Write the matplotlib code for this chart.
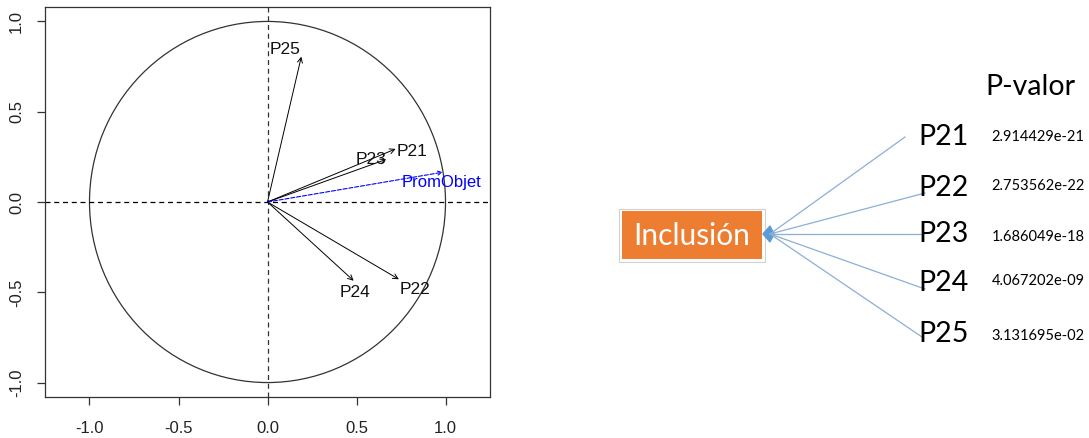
import matplotlib
matplotlib.use("Agg")
import numpy as np
import matplotlib.pyplot as plt
from matplotlib.patches import Circle, Rectangle, Polygon

# correlation circle: loadings of each item on the two dimensions
items = ["P21", "P22", "P23", "P24", "P25"]
dim1 = [0.72, 0.738, 0.667, 0.484, 0.19]
dim2 = [0.294, -0.428, 0.236, -0.436, 0.805]
prom_x, prom_y = 0.985, 0.165  # supplementary variable PromObjet

# p-values shown on the right panel
pvalues = ["2.914429e-21", "2.753562e-22", "1.686049e-18", "4.067202e-09", "3.131695e-02"]

W, H = 1089, 438
fig = plt.figure(figsize=(W / 100, H / 100), dpi=100)

# ---- left: correlation circle (R style) ----
ax = fig.add_axes([45 / W, 1 - 397 / H, 445 / W, 390 / H])
ax.set_xlim(-1.25, 1.25)
ax.set_ylim(-1.08, 1.08)
ax.add_patch(Circle((0, 0), 1.0, fill=False, ec="#333333", lw=0.9))
ax.axhline(0, color="black", ls=(0, (4, 3)), lw=0.9)
ax.axvline(0, color="#333333", ls=(0, (4, 3)), lw=0.9)

for x, y in zip(dim1, dim2):
    ax.annotate("", xy=(x, y), xytext=(0, 0),
                arrowprops=dict(arrowstyle="->", color="black", lw=0.7,
                                mutation_scale=9, shrinkA=0, shrinkB=0))
ax.annotate("", xy=(prom_x, prom_y), xytext=(0, 0),
            arrowprops=dict(arrowstyle="->", color="#0000ff", lw=0.8, ls="--",
                            mutation_scale=7, shrinkA=0, shrinkB=0))

label_off = {"P21": (0.09, -0.015), "P22": (0.088, -0.056), "P23": (-0.084, 0.0),
             "P24": (0.009, -0.064), "P25": (-0.093, 0.04)}
for name, x, y in zip(items, dim1, dim2):
    dx, dy = label_off[name]
    ax.text(x + dx, y + dy, name, ha="center", va="center", fontsize=12.5,
            family="Liberation Sans", color="#111111")
ax.text(prom_x - 0.009, prom_y - 0.058, "PromObjet", ha="center", va="center",
        fontsize=12, family="Liberation Sans", color="#0000ff")

ax.set_xticks([-1.0, -0.5, 0.0, 0.5, 1.0])
ax.set_yticks([-1.0, -0.5, 0.0, 0.5, 1.0])
ax.set_xticklabels(["-1.0", "-0.5", "0.0", "0.5", "1.0"])
ax.set_yticklabels(["-1.0", "-0.5", "0.0", "0.5", "1.0"], rotation=90, va="center")
ax.tick_params(length=6, width=0.9, color="#333333", labelsize=12,
               labelcolor="#222222")
ax.tick_params(axis="x", pad=11)
ax.tick_params(axis="y", pad=9)
for lab in ax.get_xticklabels() + ax.get_yticklabels():
    lab.set_family("Liberation Sans")
for s in ax.spines.values():
    s.set_color("#333333")
    s.set_linewidth(0.9)

# ---- right: diagram (pixel coordinates) ----
ov = fig.add_axes([0, 0, 1, 1])
ov.set_xlim(0, W)
ov.set_ylim(H, 0)
ov.axis("off")

ov.add_patch(Rectangle((619, 209), 146, 53, fc="white", ec="#d0d0d0", lw=0.8))
ov.add_patch(Rectangle((622, 211), 140, 48, fc="#ed7d31", ec="none"))
ov.text(692, 236, "Inclusión", ha="center", va="center", fontsize=21.5,
        family="Lato", color="white")

hub = (770, 234)
label_x = 918
label_y = [137, 188, 234, 283, 334]
pval_y = [137, 186, 237, 281, 336]
line_end = [(905, 137), (925, 193), (923, 234), (925, 289), (922, 337)]
for (ex, ey) in line_end:
    ov.plot([hub[0], ex], [hub[1], ey], color="#8aafd7", lw=0.9)
ov.add_patch(Polygon([(763, 234), (770, 226), (774, 234), (770, 242)],
                     closed=True, fc="#5b9bd5", ec="#5b9bd5"))

for name, y in zip(items, label_y):
    ov.text(label_x, y, name, ha="left", va="center", fontsize=20.5,
            family="Lato", color="black")
for p, y in zip(pvalues, pval_y):
    ov.text(1038, y, p, ha="center", va="center", fontsize=10.5,
            family="Lato", color="black")
ov.text(1030, 87, "P-valor", ha="center", va="center", fontsize=20.5,
        family="Lato", color="black")

fig.savefig("out.png", dpi=100)
